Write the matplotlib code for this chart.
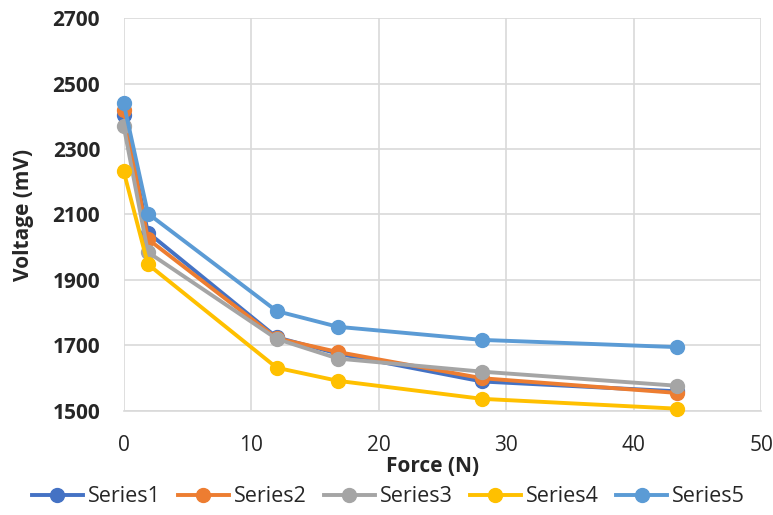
import matplotlib.pyplot as plt

plt.rcParams['font.family'] = ['Open Sans', 'DejaVu Sans']

# measured force (N) and output voltage (mV) for five runs
force = [0, 1.9, 12.0, 16.8, 28.1, 43.4]
series1 = [2405, 2045, 1725, 1675, 1590, 1560]
series2 = [2420, 2025, 1722, 1680, 1600, 1555]
series3 = [2370, 1985, 1720, 1660, 1620, 1577]
series4 = [2232, 1948, 1632, 1592, 1537, 1507]
series5 = [2440, 2103, 1805, 1757, 1717, 1695]

names = ['Series1', 'Series2', 'Series3', 'Series4', 'Series5']
colors = ['#4472C4', '#ED7D31', '#A5A5A5', '#FFC000', '#5B9BD5']
text_color = '#262626'

fig = plt.figure(figsize=(7.73, 5.15), dpi=100)
ax = fig.add_axes([0.160, 0.202, 0.825, 0.763])

for vals, name, c in zip([series1, series2, series3, series4, series5], names, colors):
    ax.plot(force, vals, color=c, lw=2.8, marker='o', ms=10, label=name,
            clip_on=False, zorder=3)

ax.set_xlim(0, 50)
ax.set_ylim(1500, 2700)
ax.set_xticks(range(0, 51, 10))
ax.set_yticks(range(1500, 2701, 200))
ax.grid(True, color='#D9D9D9', lw=1.2)
ax.set_axisbelow(True)
for s in ['top', 'right', 'left']:
    ax.spines[s].set_visible(False)
ax.spines['bottom'].set_color('#D9D9D9')
ax.spines['bottom'].set_linewidth(1.2)
ax.tick_params(axis='x', length=0, labelsize=15, pad=17, labelcolor=text_color)
ax.tick_params(axis='y', length=0, labelsize=15, pad=17, labelcolor=text_color)
for lbl in ax.get_yticklabels():
    lbl.set_fontweight('bold')

ax.set_xlabel('Force (N)', fontsize=15, fontweight='bold', color=text_color)
ax.xaxis.set_label_coords(0.484, -0.115)
ax.set_ylabel('Voltage (mV)', fontsize=15, fontweight='bold', color=text_color)
ax.yaxis.set_label_coords(-0.14, 0.5)

fig.legend(loc='center', bbox_to_anchor=(0.502, 0.035), ncol=5, frameon=False,
           fontsize=15.5, handlelength=2.4, columnspacing=0.8, handletextpad=0.2,
           labelcolor=text_color)

fig.savefig('out.png', dpi=100)
